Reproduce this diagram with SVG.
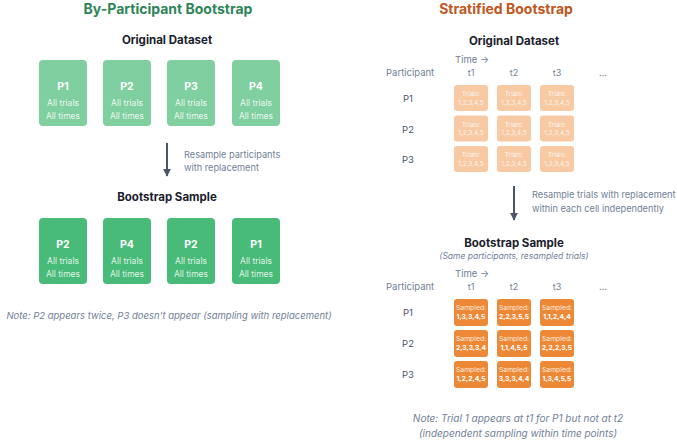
<svg xmlns="http://www.w3.org/2000/svg" width="677" height="440" viewBox="0 0 677 440">
<defs>
<marker id="ah" viewBox="0 0 10 10" refX="9" refY="5" markerWidth="4" markerHeight="5" orient="auto" markerUnits="strokeWidth">
<path d="M0,0 L10,5 L0,10 z" fill="#4a5568"/>
</marker>
<style>
text{font-family:Inter,"Noto Sans","Liberation Sans",sans-serif;}
.t1{font-size:14px;font-weight:700;text-anchor:middle;}
.h{font-size:11.5px;font-weight:700;fill:#1a202c;text-anchor:middle;}
.pl{font-size:10.5px;font-weight:700;fill:#fff;text-anchor:middle;}
.sl{font-size:8.5px;fill:#fff;fill-opacity:0.85;text-anchor:middle;}
.lg{fill:#48bb78;fill-opacity:0.7;}
.dg{fill:#48bb78;}
.lo{fill:#ed8936;fill-opacity:0.45;}
.do{fill:#ed8936;}
.ax{font-size:9.5px;fill:#718096;}
.axm{font-size:9px;fill:#718096;text-anchor:middle;}
.rl{font-size:9.5px;fill:#4a5568;text-anchor:middle;}
.ct{font-size:6.5px;fill:#fff;fill-opacity:0.8;text-anchor:middle;}
.cs{font-size:6.8px;fill:#fff;fill-opacity:0.85;text-anchor:middle;}
.cn{font-size:6.8px;fill:#fff;font-weight:700;text-anchor:middle;}
.note{font-size:10px;font-style:italic;fill:#718096;text-anchor:middle;}
.lab{font-size:9.2px;fill:#718096;}
.arr{stroke:#4a5568;stroke-width:2;fill:none;}
</style>
</defs>

<text class="t1" x="168" y="14" fill="#2f855a">By-Participant Bootstrap</text>
<text class="t1" x="506" y="14" fill="#c05621">Stratified Bootstrap</text>

<text class="h" x="167" y="44">Original Dataset</text>
<g id="o-p1"><rect class="lg" x="39" y="60" width="48" height="66" rx="4"/><text class="pl" x="63" y="90">P1</text><text class="sl" x="63" y="106">All trials</text><text class="sl" x="63" y="119">All times</text></g>
<g id="o-p2"><rect class="lg" x="103" y="60" width="48" height="66" rx="4"/><text class="pl" x="127" y="90">P2</text><text class="sl" x="127" y="106">All trials</text><text class="sl" x="127" y="119">All times</text></g>
<g id="o-p3"><rect class="lg" x="167" y="60" width="48" height="66" rx="4"/><text class="pl" x="191" y="90">P3</text><text class="sl" x="191" y="106">All trials</text><text class="sl" x="191" y="119">All times</text></g>
<g id="o-p4"><rect class="lg" x="232" y="60" width="48" height="66" rx="4"/><text class="pl" x="256" y="90">P4</text><text class="sl" x="256" y="106">All trials</text><text class="sl" x="256" y="119">All times</text></g>

<text class="lab" x="184" y="158">Resample participants</text>
<text class="lab" x="184" y="171">with replacement</text>

<text class="h" x="167" y="201">Bootstrap Sample</text>
<g id="b-p2a"><rect class="dg" x="39" y="218" width="48" height="66" rx="4"/><text class="pl" x="63" y="248">P2</text><text class="sl" x="63" y="264">All trials</text><text class="sl" x="63" y="277">All times</text></g>
<g id="b-p4"><rect class="dg" x="103" y="218" width="48" height="66" rx="4"/><text class="pl" x="127" y="248">P4</text><text class="sl" x="127" y="264">All trials</text><text class="sl" x="127" y="277">All times</text></g>
<g id="b-p2b"><rect class="dg" x="167" y="218" width="48" height="66" rx="4"/><text class="pl" x="191" y="248">P2</text><text class="sl" x="191" y="264">All trials</text><text class="sl" x="191" y="277">All times</text></g>
<g id="b-p1"><rect class="dg" x="232" y="218" width="48" height="66" rx="4"/><text class="pl" x="256" y="248">P1</text><text class="sl" x="256" y="264">All trials</text><text class="sl" x="256" y="277">All times</text></g>

<text class="note" x="169" y="319" style="font-size:9.5px">Note: P2 appears twice, P3 doesn't appear (sampling with replacement)</text>

<!-- Right: original -->
<text class="h" x="514" y="45">Original Dataset</text>
<text class="ax" x="455" y="63">Time →</text>
<text class="ax" x="386" y="76">Participant</text>
<text class="axm" x="471" y="76">t1</text>
<text class="axm" x="514" y="76">t2</text>
<text class="axm" x="557" y="76">t3</text>
<text class="axm" x="603" y="76">...</text>
<text class="rl" x="408" y="102">P1</text>
<text class="rl" x="408" y="133">P2</text>
<text class="rl" x="408" y="163">P3</text>

<g id="oc-11"><rect class="lo" x="454" y="85" width="34" height="26" rx="3"/><text class="ct" x="471" y="96">Trials:</text><text class="ct" x="471" y="104.5">1,2,3,4,5</text></g>
<g id="oc-12"><rect class="lo" x="497" y="85" width="34" height="26" rx="3"/><text class="ct" x="514" y="96">Trials:</text><text class="ct" x="514" y="104.5">1,2,3,4,5</text></g>
<g id="oc-13"><rect class="lo" x="540" y="85" width="34" height="26" rx="3"/><text class="ct" x="557" y="96">Trials:</text><text class="ct" x="557" y="104.5">1,2,3,4,5</text></g>
<g id="oc-21"><rect class="lo" x="454" y="115.5" width="34" height="26" rx="3"/><text class="ct" x="471" y="126.5">Trials:</text><text class="ct" x="471" y="135">1,2,3,4,5</text></g>
<g id="oc-22"><rect class="lo" x="497" y="115.5" width="34" height="26" rx="3"/><text class="ct" x="514" y="126.5">Trials:</text><text class="ct" x="514" y="135">1,2,3,4,5</text></g>
<g id="oc-23"><rect class="lo" x="540" y="115.5" width="34" height="26" rx="3"/><text class="ct" x="557" y="126.5">Trials:</text><text class="ct" x="557" y="135">1,2,3,4,5</text></g>
<g id="oc-31"><rect class="lo" x="454" y="146" width="34" height="26" rx="3"/><text class="ct" x="471" y="157">Trials:</text><text class="ct" x="471" y="165.5">1,2,3,4,5</text></g>
<g id="oc-32"><rect class="lo" x="497" y="146" width="34" height="26" rx="3"/><text class="ct" x="514" y="157">Trials:</text><text class="ct" x="514" y="165.5">1,2,3,4,5</text></g>
<g id="oc-33"><rect class="lo" x="540" y="146" width="34" height="26" rx="3"/><text class="ct" x="557" y="157">Trials:</text><text class="ct" x="557" y="165.5">1,2,3,4,5</text></g>

<text class="lab" x="532" y="198">Resample trials with replacement</text>
<text class="lab" x="532" y="212">within each cell independently</text>

<text class="h" x="514" y="247">Bootstrap Sample</text>
<text class="note" x="514" y="259" style="font-size:8.5px">(Same participants, resampled trials)</text>
<text class="ax" x="455" y="277">Time →</text>
<text class="ax" x="386" y="290">Participant</text>
<text class="axm" x="471" y="290">t1</text>
<text class="axm" x="514" y="290">t2</text>
<text class="axm" x="557" y="290">t3</text>
<text class="axm" x="603" y="290">...</text>
<text class="rl" x="408" y="316">P1</text>
<text class="rl" x="408" y="347">P2</text>
<text class="rl" x="408" y="378">P3</text>

<g id="bc-11"><rect class="do" x="454" y="299" width="34" height="27" rx="3"/><text class="cs" x="471" y="310">Sampled:</text><text class="cn" x="471" y="319">1,3,3,4,5</text></g>
<g id="bc-12"><rect class="do" x="497" y="299" width="34" height="27" rx="3"/><text class="cs" x="514" y="310">Sampled:</text><text class="cn" x="514" y="319">2,2,3,5,5</text></g>
<g id="bc-13"><rect class="do" x="540" y="299" width="34" height="27" rx="3"/><text class="cs" x="557" y="310">Sampled:</text><text class="cn" x="557" y="319">1,1,2,4,4</text></g>
<g id="bc-21"><rect class="do" x="454" y="330" width="34" height="27" rx="3"/><text class="cs" x="471" y="341">Sampled:</text><text class="cn" x="471" y="350">2,3,3,3,4</text></g>
<g id="bc-22"><rect class="do" x="497" y="330" width="34" height="27" rx="3"/><text class="cs" x="514" y="341">Sampled:</text><text class="cn" x="514" y="350">1,1,4,5,5</text></g>
<g id="bc-23"><rect class="do" x="540" y="330" width="34" height="27" rx="3"/><text class="cs" x="557" y="341">Sampled:</text><text class="cn" x="557" y="350">2,2,2,3,5</text></g>
<g id="bc-31"><rect class="do" x="454" y="361" width="34" height="27" rx="3"/><text class="cs" x="471" y="372">Sampled:</text><text class="cn" x="471" y="381">1,2,2,4,5</text></g>
<g id="bc-32"><rect class="do" x="497" y="361" width="34" height="27" rx="3"/><text class="cs" x="514" y="372">Sampled:</text><text class="cn" x="514" y="381">3,3,3,4,4</text></g>
<g id="bc-33"><rect class="do" x="540" y="361" width="34" height="27" rx="3"/><text class="cs" x="557" y="372">Sampled:</text><text class="cn" x="557" y="381">1,3,4,5,5</text></g>

<text class="note" x="518" y="422">Note: Trial 1 appears at t1 for P1 but not at t2</text>
<text class="note" x="518" y="437">(independent sampling within time points)</text>

<g id="connectors">
<line class="arr" x1="167" y1="143" x2="167" y2="176" marker-end="url(#ah)"/>
<line class="arr" x1="514" y1="186" x2="514" y2="220" marker-end="url(#ah)"/>
</g>
</svg>
